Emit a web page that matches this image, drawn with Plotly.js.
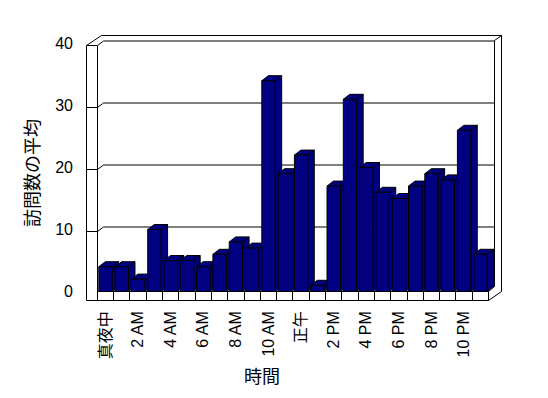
<!DOCTYPE html>
<html><head><meta charset="utf-8">
<script src="https://cdn.plot.ly/plotly-3.0.1.min.js"></script>
<style>html,body{margin:0;padding:0;background:#fff}#chart{width:548px;height:398px}</style>
</head><body><div id="chart"></div>
<script>
// ---- data ----
const hours = ["真夜中","1 AM","2 AM","3 AM","4 AM","5 AM","6 AM","7 AM","8 AM","9 AM","10 AM","11 AM",
               "正午","1 PM","2 PM","3 PM","4 PM","5 PM","6 PM","7 PM","8 PM","9 PM","10 PM","11 PM"];
const visits = [4,4,2,10,5,5,4,6,8,7,34,19,22,1,17,31,20,16,15,17,19,18,26,6];
const yTickValues = [0,10,20,30,40];
const shownHourIdx = [0,2,4,6,8,10,12,14,16,18,20,22];
const xTitle = "時間";
const yTitle = "訪問数の平均";

// ---- geometry (pixels) ----
const W=548, H=398, L=80, R=508, T=28, B=303;
const CAT0=105.5, CATW=16.3, V0=291.5, VU=6.2;
const px2x = p => (p-CAT0)/CATW;
const px2y = p => (V0-p)/VU;
const BARW = 0.82;
const DX = 6.5/CATW, DY = 5/VU;
const FONT = "Liberation Sans, Noto Sans CJK JP, sans-serif";
const NAVY = "#000080";

const idx = hours.map((_,i)=>i);
const shapes = [];
function pathD(pts){ return "M" + pts.map(p=>p[0]+","+p[1]).join(" L") ; }
function pxLine(pts){
  shapes.push({type:"path", xref:"x", yref:"y", layer:"below",
    path: pathD(pts.map(p=>[px2x(p[0]), px2y(p[1])])),
    line:{color:"#000", width:1}});
}
function pxPoly(pts, fill){
  shapes.push({type:"path", xref:"x", yref:"y", layer:"below",
    path: pathD(pts.map(p=>[px2x(p[0]), px2y(p[1])]))+" Z",
    fillcolor:fill, line:{color:"#000", width:1}});
}
const half = y => Math.floor(y)+0.5;

// floor front slab
pxPoly([[97.5,291.5],[488.5,291.5],[488.5,300.5],[97.5,300.5]], "#fff");
for (let i=0;i<=hours.length;i++){
  const p = half(CAT0 + CATW*(i-0.5));
  pxLine([[p,291.5],[p,300.5]]);
}
pxLine([[86.5,300.5],[97.5,300.5]]);
pxLine([[488.5,291.5],[494.5,286.5]]);
pxLine([[488.5,300.5],[501.5,291.5]]);
// walls
pxLine([[86.5,45.5],[86.5,300.5]]);
pxLine([[97.5,45.5],[97.5,291.5]]);
pxLine([[86.5,45.5],[101.5,35.5],[501.5,35.5]]);
pxLine([[494.5,40.5],[494.5,286.5]]);
pxLine([[501.5,35.5],[501.5,291.5]]);
pxLine([[501.5,35.5],[494.5,40.5]]);
// grid lines on the walls
yTickValues.filter(v=>v>0).forEach(v=>{
  const yF = half(V0 - VU*v + 1.5);
  const yB = yF - 4.5;
  pxLine([[86.5,yF],[97.5,yF],[103.5,yB],[494.5,yB]]);
});
// 3D side and top faces of bars (data coordinates)
visits.forEach((v,i)=>{
  const x0=i-BARW/2, x1=i+BARW/2;
  shapes.push({type:"path", xref:"x", yref:"y", layer:"below",
    path:`M${x1},0 L${x1+DX},${DY} L${x1+DX},${v+DY} L${x1},${v} Z`,
    fillcolor:NAVY, line:{color:"#000", width:1}});
  shapes.push({type:"path", xref:"x", yref:"y", layer:"below",
    path:`M${x0},${v} L${x0+DX},${v+DY} L${x1+DX},${v+DY} L${x1},${v} Z`,
    fillcolor:NAVY, line:{color:"#000", width:1}});
});

const trace = {
  type:"bar", x: idx, y: visits, width: BARW,
  marker:{color:NAVY, line:{color:"#000", width:1}},
  hovertext: hours, hoverinfo:"text+y"
};

const layout = {
  width:W, height:H,
  margin:{l:L, r:W-R, t:T, b:H-B, pad:0},
  paper_bgcolor:"#fff", plot_bgcolor:"rgba(0,0,0,0)",
  showlegend:false,
  font:{family:FONT, size:16, color:"#000"},
  xaxis:{range:[px2x(L), px2x(R)], tickvals: shownHourIdx,
         ticktext: shownHourIdx.map(i=>hours[i]), tickangle:-90,
         showgrid:false, zeroline:false, showline:false, ticks:"",
         ticklabelstandoff:4, tickfont:{size:16, family:FONT}},
  yaxis:{range:[px2y(B), px2y(T)], tickvals: yTickValues,
         ticktext: yTickValues.map(String),
         showgrid:false, zeroline:false, showline:false, ticks:"",
         ticklabelstandoff:6, tickfont:{size:16, family:FONT}},
  shapes: shapes,
  annotations:[
    {text:xTitle, xref:"paper", yref:"paper", x:(261.7-L)/(R-L), y:(B-377)/(B-T),
     xanchor:"center", yanchor:"middle", showarrow:false, font:{size:18, family:FONT}},
    {text:yTitle, xref:"paper", yref:"paper", x:(33-L)/(R-L), y:(B-173)/(B-T),
     xanchor:"center", yanchor:"middle", textangle:-90, showarrow:false, font:{size:18, family:FONT}}
  ]
};
Plotly.newPlot("chart",[trace],layout,{displayModeBar:false, staticPlot:true});
</script></body></html>
